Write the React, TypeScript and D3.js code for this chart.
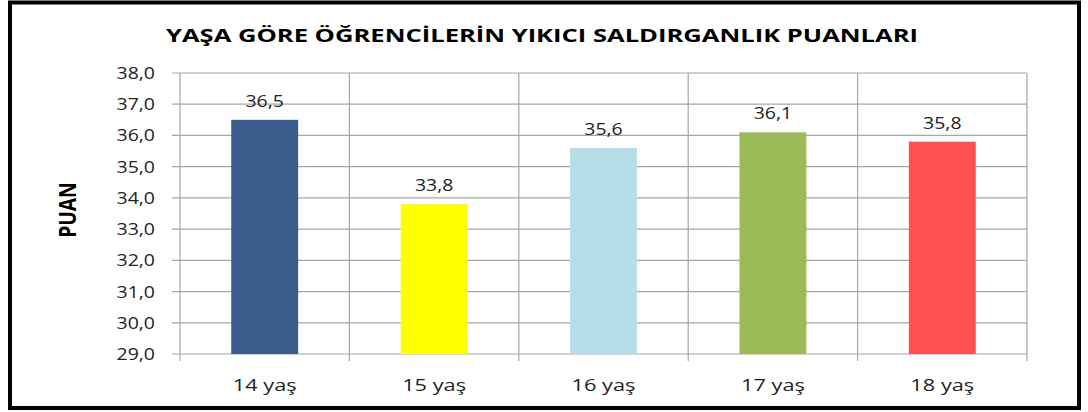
import React from "react";
import * as d3 from "d3";

const categories = ["14 yaş", "15 yaş", "16 yaş", "17 yaş", "18 yaş"];
const values = [36.5, 33.8, 35.6, 36.1, 35.8];
const valueLabels = ["36,5", "33,8", "35,6", "36,1", "35,8"];
const colors = ["#385D8A", "#FFFF00", "#B7DEE8", "#9BBB59", "#FF5050"];
const yTicks = [29, 30, 31, 32, 33, 34, 35, 36, 37, 38];
const title = "YAŞA GÖRE ÖĞRENCİLERİN YIKICI SALDIRGANLIK PUANLARI";
const yTitle = "PUAN";

const W = 1088;
const H = 412;
const left = 180;
const right = 1027;
const top = 73;
const bottom = 354;

export default function App() {
  const x = d3.scaleBand<string>().domain(categories).range([left, right]).paddingInner(0).paddingOuter(0);
  const y = d3.scaleLinear().domain([29, 38]).range([bottom, top]);
  const bw = x.bandwidth() * 0.395;
  const font = "'Open Sans', 'Noto Sans', sans-serif";
  const fmt = (v: number) => d3.format(".1f")(v).replace(".", ",");
  const bounds = categories.map((c) => x(c) as number).concat([right]);

  return (
    <svg width={W} height={H} style={{ position: "absolute", left: 0, top: 0, background: "#fff" }} fontFamily={font}>
      <rect x={0} y={0} width={W} height={H} fill="#fff" />
      <rect x={10} y={2.5} width={1069} height={405.5} fill="#fff" stroke="#000" strokeWidth={4} />
      <text x={542} y={42} textAnchor="middle" fontSize={18.5} fontWeight="bold" fill="#000" textLength={752} lengthAdjust="spacingAndGlyphs">{title}</text>
      {yTicks.map((t) => (
        <g key={t}>
          <line x1={172} x2={right} y1={y(t)} y2={y(t)} stroke="#A6A6A6" strokeWidth={1.2} />
          <text transform={`translate(155,${y(t) + 6}) scale(1.18,1)`} textAnchor="end" fontSize={16.5} fill="#222">{fmt(t)}</text>
        </g>
      ))}
      {bounds.map((b, i) => (
        <line key={i} x1={b} x2={b} y1={top} y2={bottom + 7} stroke="#A6A6A6" strokeWidth={1.2} />
      ))}
      {categories.map((c, i) => {
        const cx = (x(c) as number) + x.bandwidth() / 2;
        return (
          <g key={c}>
            <rect x={cx - bw / 2} y={y(values[i])} width={bw} height={y(29) - y(values[i])} fill={colors[i]} />
            <text transform={`translate(${cx},${y(values[i]) - 13}) scale(1.18,1)`} textAnchor="middle" fontSize={16.5} fill="#222">{valueLabels[i]}</text>
            <text transform={`translate(${cx},391) scale(1.28,1)`} textAnchor="middle" fontSize={17} fill="#222">{c}</text>
          </g>
        );
      })}
      <text transform={`translate(76,210) rotate(-90) scale(0.8,1)`} textAnchor="middle" fontSize={24} fontWeight="bold" fill="#000">{yTitle}</text>
    </svg>
  );
}
